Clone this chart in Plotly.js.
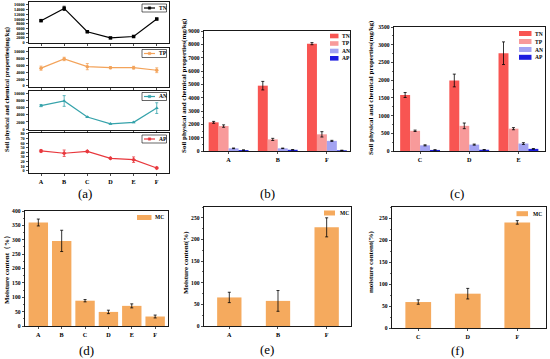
<!DOCTYPE html>
<html><head><meta charset="utf-8">
<script src="https://cdn.plot.ly/plotly-3.0.1.min.js"></script>
<style>html,body{margin:0;padding:0;background:#fff}#chart{width:550px;height:359px}</style>
</head><body><div id="chart"></div>
<script>
// ---------- data ----------
const sitesAll = ['A','B','C','D','E','F'];
const tnA = [9300, 14500, 4600, 2000, 2600, 10000];
const tnAErr = [300, 900, 200, 150, 150, 300];
const tpA = [5200, 7900, 5650, 5350, 5350, 4600];
const tpAErr = [600, 500, 900, 300, 400, 700];
const anA = [6600, 7900, 3400, 1500, 1900, 5900];
const anAErr = [300, 1500, 150, 100, 100, 1500];
const apA = [43, 38, 42, 27, 24, 6];
const apAErr = [3, 7, 2, 2, 6, 2];

const sitesB = ['A','B','F'];
const tnB = [2150, 4900, 8050];  const tnBErr = [70, 320, 80];
const tpB = [1870, 870, 1250];   const tpBErr = [90, 80, 200];
const anB = [200, 200, 760];     const anBErr = [25, 20, 40];
const apB = [70, 90, 50];        const apBErr = [10, 15, 10];

const sitesC = ['C','D','E'];
const tnC = [1580, 1990, 2760];  const tnCErr = [70, 180, 320];
const tpC = [570, 710, 630];     const tpCErr = [20, 80, 30];
const anC = [160, 180, 210];     const anCErr = [15, 15, 25];
const apC = [30, 35, 60];        const apCErr = [5, 5, 8];

const mcD = [360, 296, 88, 49, 70, 33]; const mcDErr = [12, 37, 4, 6, 7, 5];
const sitesE = ['A','B','F'];
const mcE = [66, 58, 228];  const mcEErr = [12, 24, 22];
const sitesF = ['C','D','F'];
const mcF = [59, 78, 240];  const mcFErr = [5, 12, 4];

const seriesNames = ['TN','TP','AN','AP'];
const mcName = 'MC';

// ---------- styling ----------
const W = 550, H = 359;
const X = p => p / W;
const Y = p => 1 - p / H;
const FONT = 'Liberation Serif, Times New Roman, serif';
const lineCols = ['#000000', '#F3A35A', '#36A3AB', '#E8383D'];
const barCols = ['#F85552', '#F89A9A', '#A3A3F2', '#1C1CE0'];
const mcCol = '#F5AA5E';

function ax(extra) {
  return Object.assign({
    showline: true, mirror: true, linecolor: '#000', linewidth: 0.9,
    ticks: 'outside', ticklen: 2.5, tickwidth: 0.7, tickcolor: '#000',
    showgrid: false, zeroline: false, fixedrange: true,
    tickfont: {family: FONT, size: 5.6, color: '#000', weight: 'bold'}
  }, extra);
}
const smallTick = {family: FONT, size: 4.3, color: '#000', weight: 'bold'};

const traces = [];
const aVals = [tnA, tpA, anA, apA];
const aErrs = [tnAErr, tpAErr, anAErr, apAErr];
const aSym = ['square', 'circle', 'triangle-up', 'diamond'];
for (let i = 0; i < 4; i++) {
  const s = i === 0 ? '' : String(i + 1);
  traces.push({
    type: 'scatter', mode: 'lines+markers', x: sitesAll, y: aVals[i],
    name: seriesNames[i], xaxis: 'x' + s, yaxis: 'y' + s, showlegend: false,
    line: {color: lineCols[i], width: 1.2},
    marker: {color: lineCols[i], size: 3.5, symbol: aSym[i]},
    error_y: {type: 'data', array: aErrs[i], color: lineCols[i], thickness: 0.8, width: 1.5}
  });
}
const bVals = [tnB, tpB, anB, apB], bErrs = [tnBErr, tpBErr, anBErr, apBErr];
const cVals = [tnC, tpC, anC, apC], cErrs = [tnCErr, tpCErr, anCErr, apCErr];
for (let i = 0; i < 4; i++) {
  traces.push({type: 'bar', x: sitesB, y: bVals[i], name: seriesNames[i], xaxis: 'x5', yaxis: 'y5',
    showlegend: false, marker: {color: barCols[i]},
    error_y: {type: 'data', array: bErrs[i], color: '#000', thickness: 0.8, width: 1.5}});
}
for (let i = 0; i < 4; i++) {
  traces.push({type: 'bar', x: sitesC, y: cVals[i], name: seriesNames[i], xaxis: 'x6', yaxis: 'y6',
    showlegend: false, marker: {color: barCols[i]},
    error_y: {type: 'data', array: cErrs[i], color: '#000', thickness: 0.8, width: 1.5}});
}
traces.push({type: 'bar', x: sitesAll, y: mcD, name: mcName, xaxis: 'x7', yaxis: 'y7', width: 0.83,
  showlegend: false, marker: {color: mcCol},
  error_y: {type: 'data', array: mcDErr, color: '#000', thickness: 0.8, width: 1.5}});
traces.push({type: 'bar', x: sitesE, y: mcE, name: mcName, xaxis: 'x8', yaxis: 'y8', width: 0.5,
  showlegend: false, marker: {color: mcCol},
  error_y: {type: 'data', array: mcEErr, color: '#000', thickness: 0.8, width: 1.5}});
traces.push({type: 'bar', x: sitesF, y: mcF, name: mcName, xaxis: 'x9', yaxis: 'y9', width: 0.52,
  showlegend: false, marker: {color: mcCol},
  error_y: {type: 'data', array: mcFErr, color: '#000', thickness: 0.8, width: 1.5}});

const xA = [X(29), X(169)];
const xTick = {family: FONT, size: 6.2, color: '#000', weight: 'bold'};
const minorT = (d) => ({ticks: 'outside', ticklen: 1.5, dtick: d, tickcolor: '#000', tickwidth: 0.6});
const layout = {
  width: W, height: H, margin: {l: 0, r: 0, t: 0, b: 0},
  paper_bgcolor: '#fff', plot_bgcolor: '#fff', showlegend: false,
  barmode: 'group', bargap: 0.19, bargroupgap: 0,
  font: {family: FONT, color: '#000'},
  xaxis:  ax({domain: xA, anchor: 'y',  type: 'category', range: [-0.52, 5.53], showticklabels: false}),
  yaxis:  ax({domain: [Y(43), Y(2)], anchor: 'x', range: [-150, 17200], dtick: 2000, tickformat: 'd', tickfont: smallTick}),
  xaxis2: ax({domain: xA, anchor: 'y2', type: 'category', range: [-0.52, 5.53], showticklabels: false}),
  yaxis2: ax({domain: [Y(87), Y(48)], anchor: 'x2', range: [-300, 11100], dtick: 2000, tickformat: 'd', tickfont: smallTick}),
  xaxis3: ax({domain: xA, anchor: 'y3', type: 'category', range: [-0.52, 5.53], showticklabels: false}),
  yaxis3: ax({domain: [Y(130), Y(91)], anchor: 'x3', range: [-250, 10700], dtick: 2000, tickformat: 'd', tickfont: smallTick}),
  xaxis4: ax({domain: xA, anchor: 'y4', type: 'category', range: [-0.52, 5.53], tickfont: xTick}),
  yaxis4: ax({domain: [Y(173), Y(133)], anchor: 'x4', range: [-5, 82], dtick: 10, tickfont: smallTick}),
  xaxis5: ax({domain: [X(204), X(350)], anchor: 'y5', type: 'category', range: [-0.5, 2.47], tickfont: xTick}),
  yaxis5: ax({domain: [Y(151), Y(31)], anchor: 'x5', range: [0, 9000], dtick: 1000, minor: minorT(500)}),
  xaxis6: ax({domain: [X(394), X(545)], anchor: 'y6', type: 'category', range: [-0.53, 2.54], tickfont: xTick}),
  yaxis6: ax({domain: [Y(151), Y(27)], anchor: 'x6', range: [0, 3500], dtick: 500, minor: minorT(250)}),
  xaxis7: ax({domain: [X(25), X(168)], anchor: 'y7', type: 'category', range: [-0.57, 5.55], tickfont: xTick}),
  yaxis7: ax({domain: [Y(326), Y(211)], anchor: 'x7', range: [0, 400], dtick: 50, minor: minorT(25)}),
  xaxis8: ax({domain: [X(204), X(351)], anchor: 'y8', type: 'category', range: [-0.52, 2.5], tickfont: xTick}),
  yaxis8: ax({domain: [Y(326), Y(207)], anchor: 'x8', range: [0, 275], dtick: 50, minor: minorT(25)}),
  xaxis9: ax({domain: [X(392), X(546)], anchor: 'y9', type: 'category', range: [-0.53, 2.58], tickfont: xTick}),
  yaxis9: ax({domain: [Y(328), Y(207)], anchor: 'x9', range: [0, 275], dtick: 50, minor: minorT(25)}),
  shapes: [], annotations: []
};

function txt(t, x, y, size, opts) {
  layout.annotations.push(Object.assign({text: t, xref: 'paper', yref: 'paper', x: X(x), y: Y(y),
    showarrow: false, font: {family: FONT, size: size, color: '#000'}, xanchor: 'center', yanchor: 'middle'}, opts || {}));
}
// y titles
const boldT = (s) => ({family: FONT, size: s, color: '#000', weight: 'bold'});
txt('Soil physical and chemical properties(mg/kg)', 7, 90, 6.5, {textangle: -90, font: boldT(6.5)});
txt('Soil physical and chemical properties(mg/kg)', 184, 86, 7, {textangle: -90, font: boldT(7)});
txt('Soil physical and chemical properties(mg/kg)', 371, 88, 7, {textangle: -90, font: boldT(7)});
txt('Moisture content（%）', 7, 268, 7, {textangle: -90, font: boldT(7)});
txt('Moisture content(%)', 186, 263, 7, {textangle: -90, font: boldT(7)});
txt('moisture content(%)', 371, 262, 7, {textangle: -90, font: boldT(7)});
// panel labels
txt('(a)', 85, 193, 13); txt('(b)', 267, 193, 13); txt('(c)', 457, 193, 13);
txt('(d)', 86, 350, 13); txt('(e)', 267, 349, 13); txt('(f)', 457, 350, 13);

// legends of (a)
const aLegY = [8, 53.5, 96.5, 139];
for (let i = 0; i < 4; i++) {
  const yc = aLegY[i];
  layout.shapes.push({type: 'rect', xref: 'paper', yref: 'paper', x0: X(142), x1: X(166.5), y0: Y(yc + 4), y1: Y(yc - 4),
    line: {color: '#000', width: 0.6}, fillcolor: '#fff'});
  layout.shapes.push({type: 'line', xref: 'paper', yref: 'paper', x0: X(144), x1: X(155), y0: Y(yc), y1: Y(yc),
    line: {color: lineCols[i], width: 1.2}});
  layout.shapes.push({type: 'rect', xref: 'paper', yref: 'paper', x0: X(148.3), x1: X(150.7), y0: Y(yc + 1.2), y1: Y(yc - 1.2),
    line: {color: lineCols[i], width: 0.5}, fillcolor: lineCols[i]});
  txt(seriesNames[i], 157, yc, 5.5, {xanchor: 'left', font: boldT(5.5)});
}
// legends of (b) and (c)
const bLegY = [36, 43.5, 51, 58.3];
const cLegY = [33.5, 41.5, 49.5, 57.3];
for (let i = 0; i < 4; i++) {
  layout.shapes.push({type: 'rect', xref: 'paper', yref: 'paper', x0: X(330), x1: X(338.5), y0: Y(bLegY[i] + 2.3), y1: Y(bLegY[i] - 2.3),
    line: {width: 0}, fillcolor: barCols[i]});
  txt(seriesNames[i], 340, bLegY[i], 5.5, {xanchor: 'left', font: boldT(5.5)});
  layout.shapes.push({type: 'rect', xref: 'paper', yref: 'paper', x0: X(519), x1: X(531.5), y0: Y(cLegY[i] + 2.5), y1: Y(cLegY[i] - 2.5),
    line: {width: 0}, fillcolor: barCols[i]});
  txt(seriesNames[i], 533, cLegY[i], 5.5, {xanchor: 'left', font: boldT(5.5)});
}
// MC legends
const mcLeg = [[137, 151.5, 217.5, 153], [324, 335, 213, 338], [516.5, 528, 213.7, 531]];
mcLeg.forEach(m => {
  layout.shapes.push({type: 'rect', xref: 'paper', yref: 'paper', x0: X(m[0]), x1: X(m[1]), y0: Y(m[2] + 2.5), y1: Y(m[2] - 2.5),
    line: {width: 0}, fillcolor: mcCol});
  txt(mcName, m[3], m[2], 5.5, {xanchor: 'left', font: boldT(5.5)});
});

Plotly.newPlot('chart', traces, layout, {staticPlot: true, displayModeBar: false});
</script></body></html>
